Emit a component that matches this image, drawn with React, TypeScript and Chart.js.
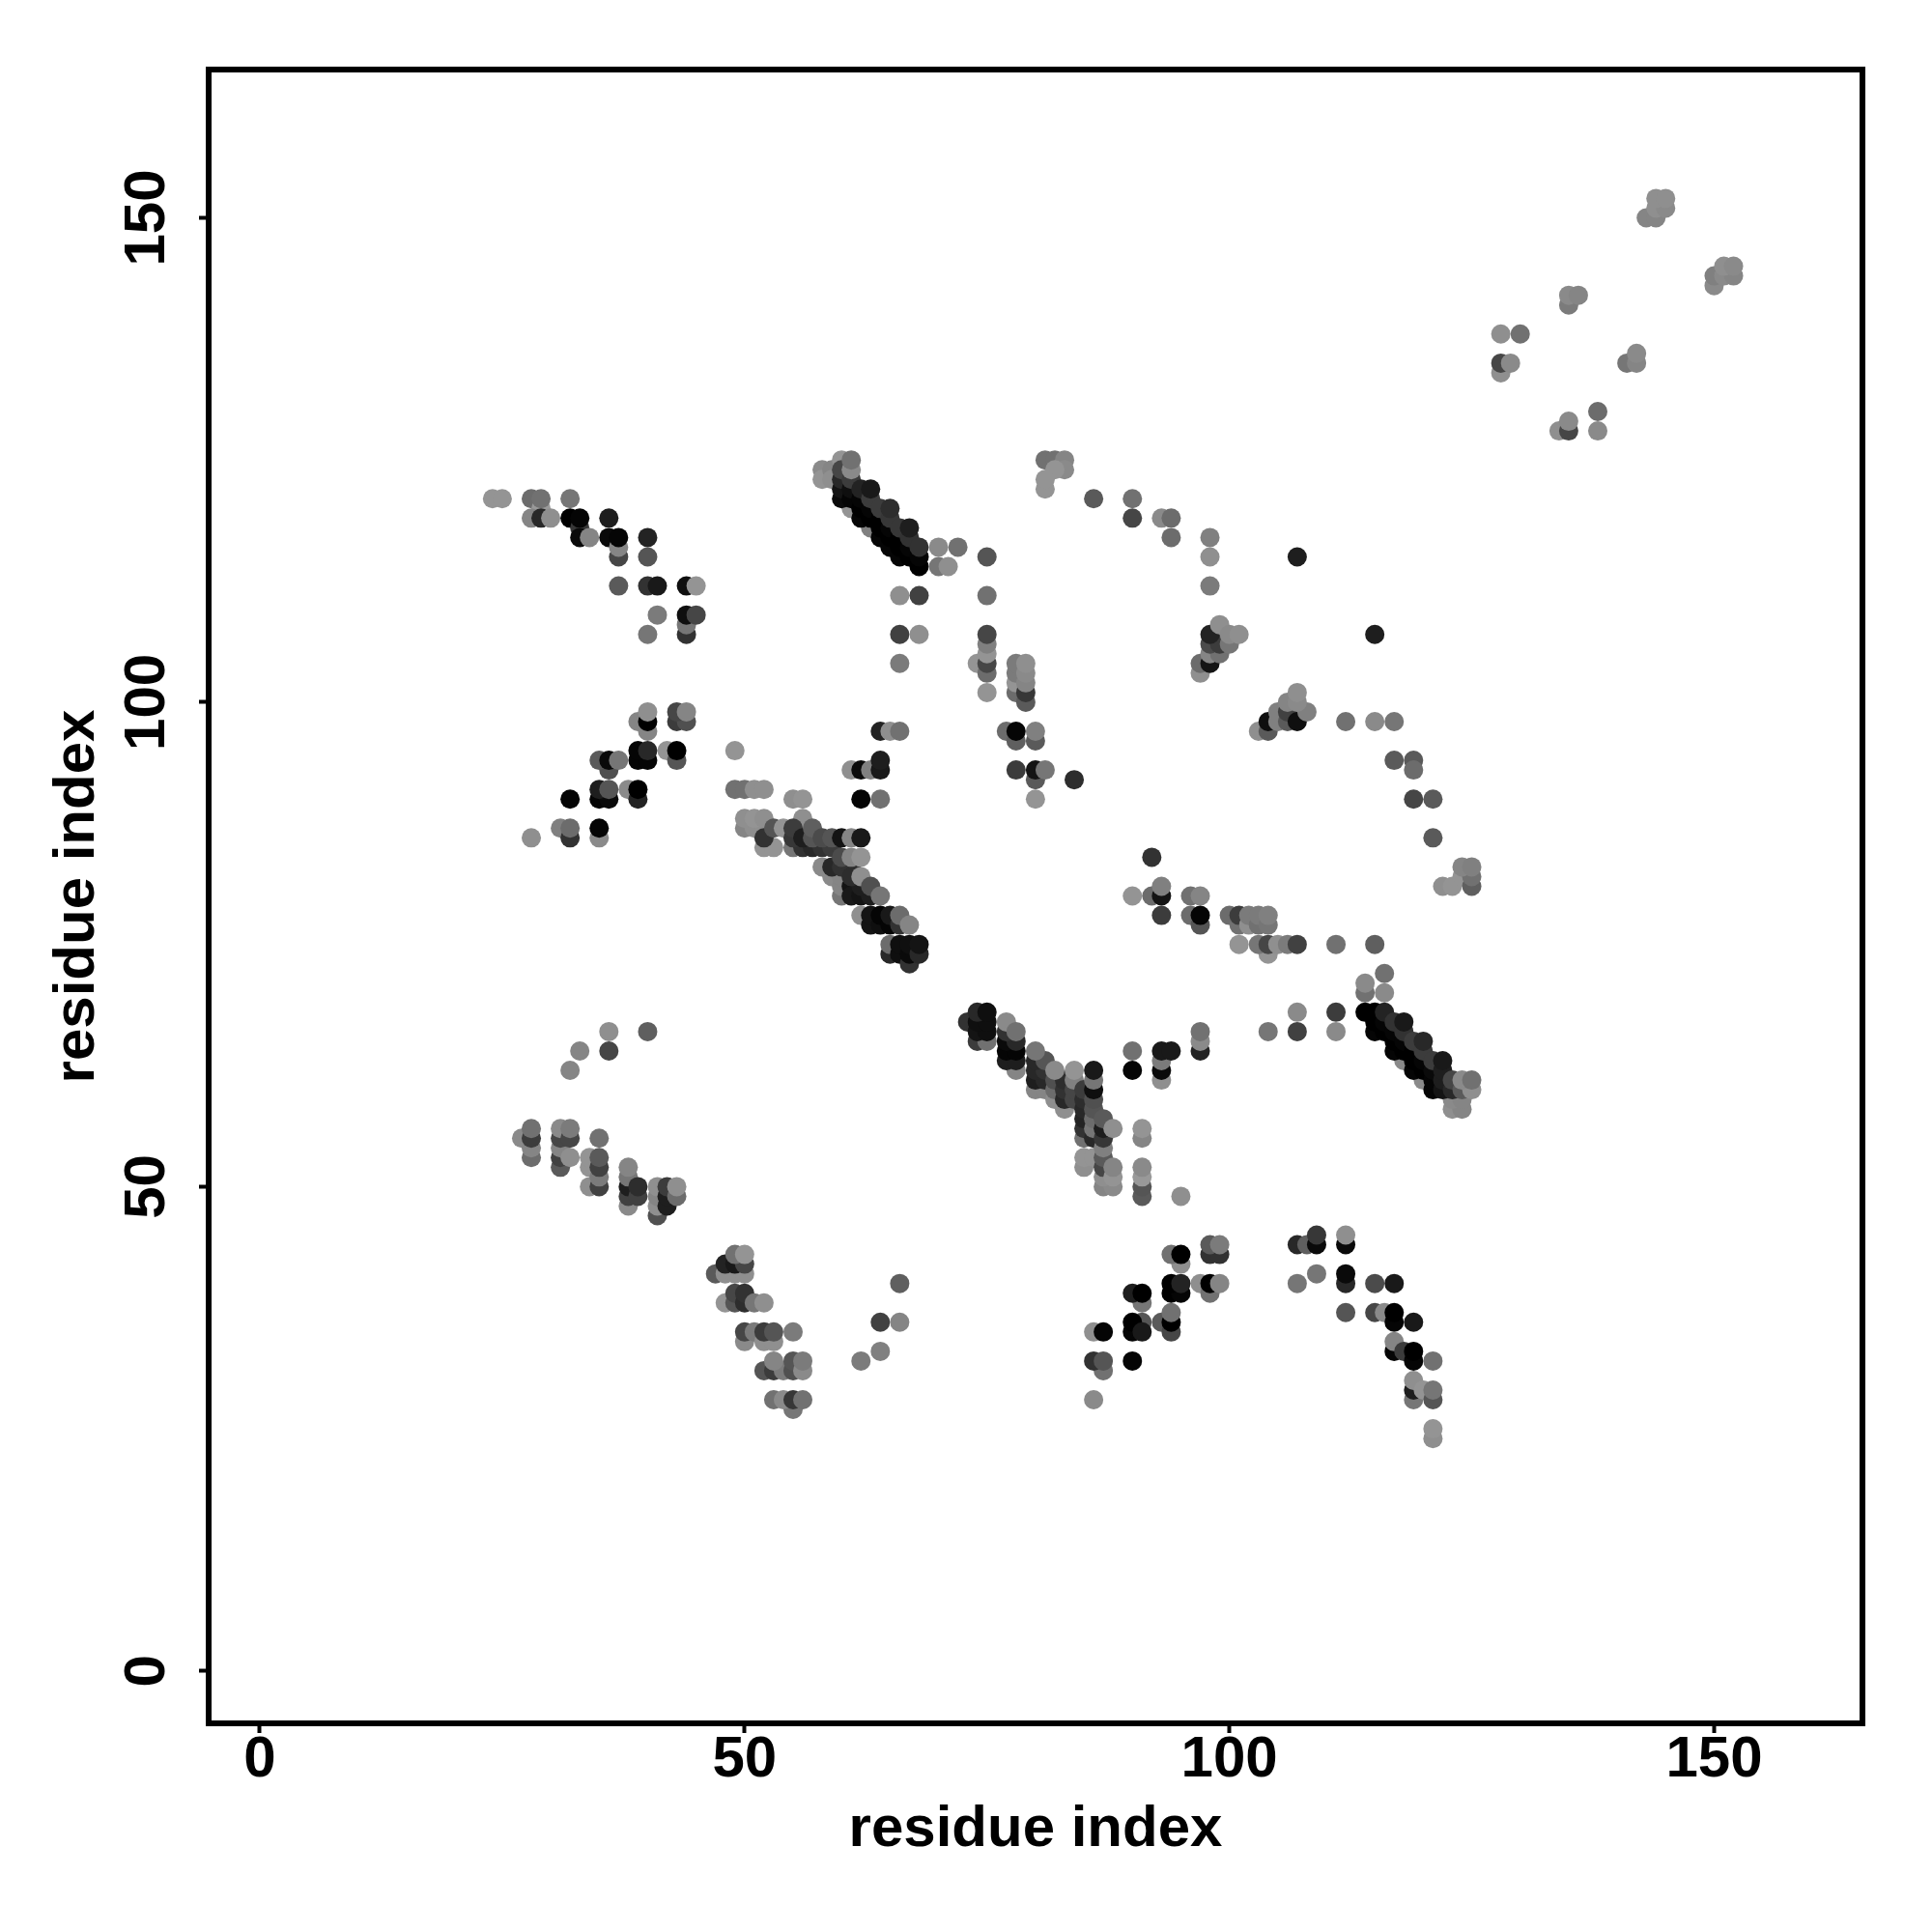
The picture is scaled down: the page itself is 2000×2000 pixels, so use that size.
import React, { useEffect, useRef } from "react";
import { Chart, registerables } from "chart.js";

Chart.register(...registerables);

const axisTicks = [0, 50, 100, 150];
const axisTitle = "residue index";

// [residue x, residue y, grey level]
const upperLeftBand = [
  [24,121,140],[25,121,140],[28,121,100],[29,120,145],[29,121,105],[32,121,110],
  [28,119,125],[29,119,40],[30,119,135],[32,119,0],[33,118,55],[33,119,5],[36,119,30],
  [33,117,10],[34,117,125],[36,117,10],[37,115,70],[37,116,125],[37,117,5],[40,117,35],[40,115,85],
  [37,112,90],[40,112,50],[41,112,25],[44,112,15],[45,112,140],
  [41,109,115],[44,107,50],[44,108,110],[44,109,15],[45,109,70],[40,107,110],
];
const midLeftBand = [
  [39,98,125],[40,97,125],[40,98,0],[40,99,135],[43,98,60],[44,98,80],[43,99,70],[44,99,125],
  [42,95,140],[43,94,85],[43,95,0],[39,94,5],[40,94,5],[39,95,5],[40,95,40],[49,95,140],
  [36,93,80],[35,94,90],[36,94,10],[37,94,110],
  [38,91,130],[39,90,35],[39,91,0],[32,90,5],[35,90,5],[36,90,10],[35,91,30],[36,91,85],
  [31,87,120],[32,86,50],[32,87,100],[35,86,130],[35,87,5],[28,86,135],
];
const firstDiagonal = [
  [58,124,130],[58,123,140],[59,124,125],[59,123,135],
  [61,120,140],[63,118,120],[60,125,140],
  [60,121,10],[62,119,5],[64,117,5],[65,116,5],[66,115,5],
  [60,122,20],[61,121,5],[62,120,0],[63,119,0],[64,118,0],[65,117,0],[66,116,0],[67,115,0],[68,114,0],
  [60,123,40],[61,122,15],[62,121,5],[63,120,5],[64,119,0],[65,118,5],[66,117,0],[67,116,5],[68,115,5],
  [60,124,70],[61,123,60],[62,122,35],[63,121,60],[64,120,60],[65,119,55],[66,118,55],[67,117,50],[68,116,50],
  [63,122,25],[65,120,45],[67,118,30],[61,124,130],[61,125,105],
  [70,116,130],[72,116,105],[70,114,110],[71,114,135],[75,115,85],[75,111,105],
  [66,111,135],[68,111,65],[66,107,65],[68,107,135],[66,104,115],
];
const column75 = [
  [74,104,140],[75,101,140],[75,103,100],[75,104,70],[75,105,140],[75,106,120],[75,107,70],
  [78,101,100],[78,102,140],[78,103,115],[78,104,115],
  [79,100,90],[79,101,55],[79,102,125],[79,103,130],[79,104,135],
  [77,97,100],[78,96,95],[78,97,5],[80,96,90],[80,97,120],
  [78,93,60],[80,92,90],[80,93,20],[81,93,110],[84,92,45],[80,90,140],
];
const column62 = [
  [64,97,35],[65,97,135],[66,97,105],[61,93,135],[62,93,10],[63,93,120],[64,93,25],[64,94,30],[62,90,5],[64,90,105],
];
const upperArc = [
  [81,125,105],[82,125,105],[83,125,125],[83,124,130],[82,124,140],[81,122,140],[81,123,140],
  [86,121,90],[90,121,105],[90,119,70],[93,119,130],[94,119,100],[94,117,100],
  [98,117,120],[98,115,135],[98,112,115],
  [97,103,135],[97,104,100],[98,104,20],[98,105,125],[99,105,105],[98,106,75],[99,106,60],[100,106,110],
  [98,107,35],[99,108,135],[100,107,130],[101,107,135],
];
const arc103 = [
  [103,97,135],[104,97,90],[104,98,15],[105,98,120],[105,99,120],[106,98,90],[106,99,65],[106,100,125],
  [107,98,15],[108,99,120],[107,100,130],[107,101,135],
  [107,115,30],[115,107,30],[112,98,105],[115,98,130],[117,98,110],[117,94,90],[119,94,90],[119,93,100],
  [119,90,70],[121,90,90],[121,86,90],
  [122,81,135],[123,81,140],[124,82,140],[125,81,95],[125,82,105],[124,83,125],[125,83,120],
];
const middleRow = [
  [90,80,140],[92,80,100],[93,80,20],[93,81,120],[93,78,60],[92,84,50],
  [96,80,105],[97,80,125],[96,78,100],[97,77,85],[97,78,5],
  [100,78,100],[101,77,105],[101,78,60],[102,77,135],[102,78,115],[103,77,105],[103,78,115],[104,77,110],[104,78,120],
  [104,74,140],[101,75,140],[103,75,110],[104,75,70],[105,75,135],[106,75,115],[107,75,65],[111,75,105],[115,75,95],
];
const secondDiagonal = [
  [116,72,105],[114,70,105],[114,71,130],[116,70,130],
  [107,68,130],[111,68,60],[104,66,110],[107,66,65],[111,66,130],
  [118,63,130],[120,61,130],[123,58,135],[124,58,125],[123,59,130],[124,59,125],
  [115,66,5],[117,64,5],[119,62,5],[121,60,5],
  [114,68,0],[115,67,0],[116,66,0],[117,65,0],[118,64,0],[119,63,0],[120,62,0],[121,61,5],[122,60,20],
  [115,68,0],[116,67,5],[117,66,5],[118,65,5],[119,64,0],[120,63,5],[121,62,10],[122,61,30],[123,60,40],
  [116,68,35],[117,67,50],[118,66,50],[119,65,60],[120,64,60],[121,63,60],[122,62,30],[123,61,70],
  [118,67,25],[120,65,40],[122,63,25],[124,60,90],[125,60,135],[124,61,130],[125,61,105],
];
const centreFan = [
  [50,87,125],[51,87,135],[50,88,135],[51,88,140],[52,88,135],[56,88,135],[55,90,135],[56,90,140],
  [49,91,105],[50,91,105],[51,91,135],[52,91,135],
  [52,85,140],[53,85,140],[52,86,50],[53,87,85],[54,87,140],
  [55,85,110],[56,85,50],[57,85,40],[58,85,50],[59,85,60],
  [55,86,55],[55,87,60],[56,86,30],[57,86,85],[57,87,95],[58,86,75],[59,86,85],
  [60,86,20],[61,86,125],[62,86,25],
  [58,83,130],[59,82,130],[60,80,110],[60,81,125],[60,82,125],
  [59,83,40],[60,83,50],[61,83,50],[60,84,75],[61,84,125],[62,84,140],
  [61,81,20],[61,80,25],[62,80,20],[63,80,30],[62,81,30],[61,82,45],[62,82,135],[63,81,80],[64,80,110],
  [62,78,135],[63,77,20],[63,78,20],[64,77,15],[64,78,5],[65,77,5],[65,78,25],[66,77,50],[66,78,100],[67,77,125],
  [65,74,40],[65,75,100],[66,74,15],[66,75,15],[67,73,50],[67,74,10],[67,75,15],[68,74,40],[68,75,20],
];
const thirdDiagonal = [
  [73,67,50],[74,65,60],[75,65,105],[74,66,20],[75,66,15],[74,67,15],[75,67,15],[74,68,40],[75,68,15],
  [78,62,125],[77,63,30],[78,63,30],[77,64,5],[78,64,5],[77,65,10],[78,65,40],[77,66,50],[77,67,130],[78,66,105],
  [80,60,125],[81,60,125],[80,61,30],[81,61,40],[80,62,40],[81,62,50],[80,63,40],[81,63,85],[80,64,110],
  [82,59,135],[82,60,100],[83,58,135],[82,61,80],[83,59,40],[83,60,50],[83,61,45],[82,62,130],
  [84,59,70],[84,60,70],[84,61,120],[84,62,140],
  [85,52,135],[85,53,140],[86,53,140],[85,55,105],[85,56,50],[85,57,35],[85,58,40],[85,59,45],[85,60,60],
  [86,55,40],[86,56,110],[86,57,100],[86,58,85],[86,59,80],[86,60,15],[86,61,110],[86,62,25],
  [87,50,125],[88,50,130],[87,51,135],[87,52,70],[87,53,90],[87,54,120],[87,55,55],[87,56,30],[87,57,90],
  [88,51,140],[88,52,125],[88,56,135],
  [91,49,90],[91,50,85],[91,51,145],[91,52,130],[91,55,125],[91,56,140],[95,49,135],
  [90,64,105],[93,61,135],[93,62,10],[93,63,115],[93,64,25],[94,64,25],[90,62,5],
  [97,64,35],[97,65,130],[97,66,105],
];
const lowerLeftBand = [
  [32,62,125],[33,64,125],[36,64,70],[36,66,135],[40,66,95],
  [27,55,130],[28,53,100],[28,54,125],[28,55,60],[28,56,105],
  [31,52,90],[31,53,65],[31,54,125],[31,55,70],[31,56,130],[32,55,70],[32,56,115],[32,53,135],
  [35,55,105],[34,50,135],[34,52,140],[34,53,140],[35,50,65],[35,51,115],[35,52,65],[35,53,90],
  [38,48,130],[38,49,65],[38,50,30],[38,51,110],[38,52,125],[39,49,65],[39,50,45],
  [41,47,80],[41,48,135],[41,49,125],[41,50,135],[42,48,30],[42,49,30],[42,50,60],[43,49,100],[43,50,135],
];
const lowerStep = [
  [47,41,90],[48,41,135],[49,41,135],[50,41,135],[48,42,35],[49,42,25],[50,42,70],[49,43,105],[50,43,140],
  [48,38,140],[49,38,85],[49,39,70],[50,38,45],[50,39,50],[51,38,110],[52,38,135],
  [50,34,130],[50,35,70],[51,35,115],[52,34,135],[53,34,135],[52,35,60],[53,35,85],[55,35,115],
  [52,31,85],[53,31,60],[54,31,115],[53,32,125],[55,31,80],[55,32,85],[56,31,130],[56,32,115],
  [55,27,110],[53,28,105],[54,28,130],[55,28,55],[56,28,105],
  [66,40,95],[64,36,65],[66,36,125],[64,33,120],[62,32,115],
];
const lowerRightBand = [
  [86,28,130],[87,31,105],[86,32,50],[87,32,85],[90,32,5],[86,35,135],[87,35,5],
  [91,36,85],[90,35,5],[90,36,0],[91,35,25],[93,36,90],[94,35,70],[94,36,0],[94,37,105],
  [91,38,110],[90,39,30],[91,39,0],
  [97,40,135],[98,39,105],[98,40,0],[99,40,125],
  [94,39,0],[95,39,5],[94,40,0],[95,40,35],
  [95,42,135],[94,43,105],[95,43,0],
  [98,43,50],[99,43,50],[98,44,90],[99,44,115],
];
const farRightBand = [
  [107,40,110],[109,41,110],[107,44,40],[108,44,95],[109,44,10],[109,45,55],
  [112,44,10],[112,45,135],[112,37,85],[112,40,40],[112,41,10],
  [115,40,75],[117,40,25],[115,37,70],[116,37,130],[117,36,5],[117,37,0],[119,36,25],
  [117,33,5],[117,34,125],[118,33,60],[119,32,5],[119,33,0],[121,32,105],
  [119,28,110],[119,29,30],[119,30,135],[120,29,140],[121,28,85],[121,29,110],[121,24,135],[121,25,140],
];
const topRightPairs = [
  [128,138,135],[130,138,105],[128,134,135],[128,135,70],[129,135,130],
  [135,141,115],[135,142,130],[136,142,125],
  [141,135,110],[142,135,125],[142,136,130],
  [134,128,135],[135,128,70],[135,129,130],[138,128,130],[138,130,100],
  [143,150,125],[144,150,125],[144,151,135],[145,151,130],[144,152,135],[145,152,135],
  [150,143,130],[150,144,120],[151,144,130],[152,144,125],[151,145,135],[152,145,130],
];

const contactGroups = [
  topRightPairs, lowerLeftBand, lowerStep, lowerRightBand, farRightBand, thirdDiagonal,
  upperLeftBand, midLeftBand, column62, column75, upperArc, arc103, firstDiagonal,
  centreFan, middleRow, secondDiagonal,
];

const FONT = "'Liberation Sans', Arial, sans-serif";
const shade = (g: number) => (g >= 100 ? g + 8 : g);

export default function App() {
  const ref = useRef<HTMLCanvasElement | null>(null);
  useEffect(() => {
    const framePlugin = {
      id: "frame",
      afterDraw(c: any) {
        const { left, top, width, height } = c.chartArea;
        const g = c.ctx;
        g.save();
        g.strokeStyle = "#000";
        g.lineWidth = 6;
        g.lineJoin = "miter";
        g.strokeRect(left, top, width, height);
        g.restore();
      },
    };
    const setTicks = (s: any) => {
      s.ticks = axisTicks.map((value) => ({ value }));
    };
    const font = { family: FONT, size: 60, weight: "bold" as const };
    const grid = {
      drawOnChartArea: false,
      drawTicks: true,
      tickLength: 10,
      tickWidth: 4,
      tickColor: "#000",
    };
    const chart = new Chart(ref.current!, {
      type: "scatter",
      data: {
        datasets: contactGroups.map((group) => ({
          data: group.map((p) => ({ x: p[0], y: p[1] })),
          pointRadius: 10,
          pointBorderWidth: 0,
          pointBackgroundColor: group.map((p) => {
            const v = shade(p[2]);
            return `rgb(${v},${v},${v})`;
          }),
        })),
      },
      options: {
        responsive: false,
        animation: false,
        layout: { padding: { left: 0, top: 72, right: 72, bottom: 0 } },
        plugins: { legend: { display: false }, tooltip: { enabled: false } },
        scales: {
          x: {
            type: "linear",
            min: -5.28,
            max: 165.3,
            afterBuildTicks: setTicks,
            afterFit: (s: any) => { s.height = 216; },
            border: { display: false },
            grid,
            ticks: { color: "#000", font, padding: -8, maxRotation: 0, minRotation: 0, autoSkip: false },
            title: { display: true, text: axisTitle, color: "#000", font, padding: { top: 0, bottom: 70 } },
          },
          y: {
            type: "linear",
            min: -5.4,
            max: 165.3,
            afterBuildTicks: setTicks,
            afterFit: (s: any) => { s.width = 216; },
            border: { display: false },
            grid,
            ticks: { color: "#000", font, padding: 2, minRotation: 90, maxRotation: 90, crossAlign: "center", autoSkip: false },
            title: { display: true, text: axisTitle, color: "#000", font, padding: { top: 44, bottom: 0 } },
          },
        },
      },
      plugins: [framePlugin],
    } as any);
    return () => chart.destroy();
  }, []);
  return (
    <div style={{ position: "absolute", left: 0, top: 0, width: 2000, height: 2000, background: "#fff" }}>
      <canvas ref={ref} width={2000} height={2000} style={{ display: "block" }} />
    </div>
  );
}
